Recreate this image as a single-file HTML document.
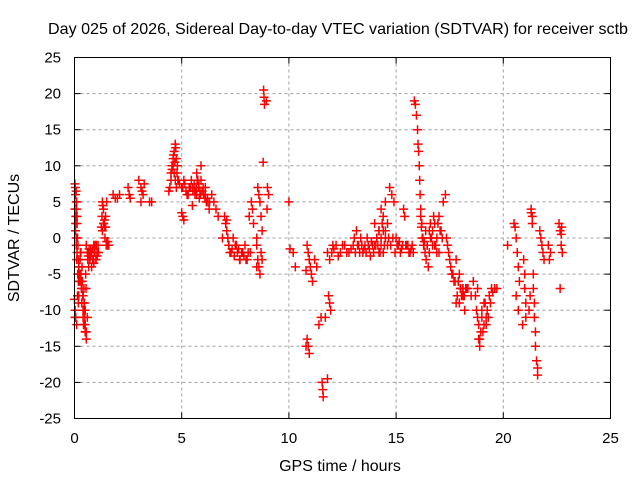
<!DOCTYPE html>
<html><head><meta charset="utf-8"><style>
body{margin:0;background:#fff}
svg{display:block;font-family:"Liberation Sans",sans-serif}
</style></head><body>
<svg id="chart" width="640" height="480" viewBox="0 0 640 480" xmlns="http://www.w3.org/2000/svg">
<rect width="640" height="480" fill="#fff"/>
<text x="338" y="34" font-size="16" text-anchor="middle" textLength="580" lengthAdjust="spacingAndGlyphs">Day 025 of 2026, Sidereal Day-to-day VTEC variation (SDTVAR) for receiver sctb</text>
<text x="340" y="471" font-size="16" text-anchor="middle">GPS time / hours</text>
<text transform="translate(19,238) rotate(-90)" font-size="16" text-anchor="middle">SDTVAR / TECUs</text>
<g id="grid"></g>
<g id="ticks"></g>
<g id="marks"></g>
<rect x="74.5" y="57.5" width="536" height="361" fill="none" stroke="#000" stroke-width="1"/>
</svg>
<script>
const xTicks=[0,5,10,15,20,25];
const yTicks=[25,20,15,10,5,0,-5,-10,-15,-20,-25];
const hours=[0.02,0.05,0.08,0.1,0.12,0.05,0.08,0.1,0.15,0.18,0.2,0.03,0.06,0.1,0.14,0.18,0.02,0.05,0.08,0.12,0.2,0.25,0.3,0.35,0.4,0.45,0.5,0.3,0.35,0.4,0.45,0.5,0.55,0.35,0.4,0.45,0.5,0.55,0.6,0.55,0.65,0.7,0.75,0.8,0.85,0.9,0.95,1.0,1.05,1.1,0.7,0.8,0.9,1.0,
1.3,1.35,1.4,1.45,1.3,1.35,1.4,1.5,1.55,1.6,1.45,1.5,1.55,1.8,1.9,2.0,2.1,2.5,2.55,2.6,3.0,3.1,3.15,3.2,3.25,3.1,3.5,3.6,4.4,4.45,4.5,4.55,4.6,4.65,4.7,4.75,4.8,4.85,4.65,4.7,4.75,5.0,5.05,5.1,5.0,5.05,5.1,5.15,5.2,5.3,5.4,5.5,5.6,5.7,5.75,5.8,5.85,5.9,6.0,6.1,6.2,6.3,5.5,5.7,5.9,6.1,6.4,6.5,6.6,6.7,
6.9,7.0,7.05,7.1,7.15,7.2,7.3,7.4,7.5,7.6,7.7,7.8,7.9,8.0,8.05,8.2,8.25,8.3,8.35,8.1,8.15,8.5,8.55,8.6,8.65,8.7,8.75,8.5,8.55,8.6,8.65,8.7,8.75,8.5,8.8,8.82,8.84,8.86,8.95,9.0,9.05,8.98,
10.0,10.05,10.2,10.3,10.8,10.85,10.9,10.95,10.8,10.85,10.9,10.95,11.0,11.05,11.1,11.2,11.3,11.4,11.5,11.55,11.58,11.6,11.8,11.85,11.9,11.95,11.7,11.8,11.9,12.0,12.05,
12.3,12.5,12.7,12.9,13.0,13.1,13.2,13.3,13.4,13.5,13.6,13.7,13.8,13.9,13.95,14.0,14.05,14.1,14.15,14.2,14.25,14.3,14.35,14.4,14.45,14.5,14.2,14.3,14.4,14.5,14.6,14.7,14.8,14.9,15.0,15.1,15.2,15.3,15.35,15.4,15.5,15.6,15.45,
15.8,15.85,15.9,15.95,16.0,16.02,16.05,16.08,16.1,16.12,16.15,16.2,16.25,16.3,16.35,16.4,16.5,16.6,16.7,16.8,16.9,17.0,17.1,16.6,16.8,17.0,17.2,17.3,17.35,17.4,17.45,17.5,17.55,17.6,17.7,17.8,17.9,18.0,18.1,18.2,17.8,17.95,18.1,18.15,18.3,18.5,18.6,18.7,18.8,18.85,18.9,18.95,19.0,19.1,19.15,19.2,19.25,19.3,19.4,19.5,19.6,19.7,
20.2,20.5,20.55,20.6,20.65,20.7,20.75,20.6,20.7,20.9,20.95,21.0,21.0,21.05,21.05,21.2,21.25,21.3,21.35,21.3,21.35,21.4,21.4,21.45,21.45,21.5,21.5,21.55,21.6,21.6,21.7,21.75,21.8,21.85,21.9,22.1,22.15,22.2,22.6,22.65,22.7,22.75,22.65,22.7,22.72,
0.0,0.02,0.04,0.06,0.08,0.1,0.12,0.14,0.16,0.18,0.2,0.22,0.24,0.26,0.28,0.3,0.32,0.34,0.36,0.38,0.4,0.42,0.44,0.46,0.48,0.5,0.52,0.54,0.6,0.62,0.64,0.66,0.68,0.72,0.76,0.84,0.88,0.92,0.96,1.02,1.06,1.12,
1.25,1.28,1.32,1.36,1.42,1.48,4.5,4.55,4.6,4.62,4.68,4.72,4.78,4.82,4.9,5.25,5.35,5.45,5.52,5.58,5.62,5.65,5.68,5.72,5.78,5.82,5.88,5.95,6.02,6.08,6.15,6.22,6.28,
7.1,7.2,7.25,7.35,7.45,7.55,7.65,7.72,7.85,7.95,
12.1,12.2,12.4,12.6,12.8,13.05,13.15,13.25,13.35,13.45,13.55,13.65,13.75,13.85,14.0,14.1,14.2,14.3,14.4,14.5,14.6,14.65,14.75,14.85,14.95,15.05,15.15,15.25,15.55,15.65,15.7,15.75,
16.15,16.18,16.22,16.28,16.32,16.38,16.45,16.55,16.65,16.75,16.85,16.95,17.05,17.15,16.45,16.55,16.7,16.9,
17.65,17.75,17.85,17.9,17.95,18.0,18.05,18.12,18.18,18.25,18.35,18.75,18.8,18.85,18.9,19.0,19.05,19.1,19.2,19.35,19.45];
const sdtvar=[7.5,6,5,4,3,1,-1,-3,-5,-6,-8,-10,-11,-12,-8,-9,4,2,0,-2,-4,-5,-6,-7,-8,-9,-10,-2,-4,-11,-12,-13,-14,-6,-8,-10,-12,-13,-11,-1,-2,-3,-1.5,-2,-3,-1,-2,-3,-2,-1,-2,-4,-3.5,-3,
5,4,2.5,1.5,1,2,1.5,-0.5,-1,-1,3,5,-0.5,6,5.5,5.5,6,7,6,5.5,8,7,6.5,6,7.5,5,5,5,6.5,7,9,10,11,12,13,11,10,8,9,8,7,7,3,2.5,3.5,7,8,7.5,6.5,6,7,7,6.5,6,8,7.5,6.5,10,7,6,5.5,5,4.5,9,8,7,6,5,4,3,0,
3,2,1,0,-1,-2,0,-1,-2,-3,-2,-2.5,-3,-3,-2,5,4,2,-2,3,0,7,6,5,3,1,-1,-3,-4,-5,-2,-3,-4,10.5,20.5,19.5,18.5,19,7,6,4,5,
-1.5,-2,-4,-4.5,-14,-15,-16,-15,-1,-2,-3,-4,-5,-6,-3,-4,-12,-11,-20,-21,-22,-19.5,-8,-9,-10,-11,-2,-3,-2,-1,-2.5,
-1,-2,-1.5,-1,-2,-1,-2,-1,-1.5,-2,-1,-2.5,-1,-2,-1,-1,0,-1,1,-2,0,2,1,-1,0,-2,4,3,5,2,7,6,5,0,-1,-2,-1,4,3,-1,-2,-1,-2,
19,18.5,17,15,13,12,10,8,6,4,2,0,-1,-2,-3,-4,0,1,-1,0,-2,1,2,2,3,5,6,0,-1,-2,-3,-4,-5,-6,-3,-6,-7,-8,-10,-9,-5,-7,-8,-7,-8,-6,-8,-7,-14,-15,-13,-10,-12,-9,-12,-10,-11,-9,-7.5,-7,-7,
-1,2,1.5,0,-2,-4,-6,-8,-10,-12,-3,-5,-7,-9,-11,-10,-8,4,3,3.5,2,-5,-7,-9,-11,-13,-15,-17,-19,-18,1,0,-1,-2,-3,-1,-3,-2,2,1,-1,-2,-7,0.5,1.5,
-8.5,-11,7,3,6.5,5,2,0,-1,-3,-4,-5,-6,-3,-2,-5,-7,-9,-6,-8,-10,-12,-7,-9,-11,-13,-5,-7,-2,-3,-2.5,-4,-1.5,-3,-2.5,-1.5,-3,-2,-1,-1,-2.5,-2,
1.5,3,4.5,2,0,-1,8,9.5,10,11.5,10.5,12.5,9,8,7.5,6,7,8,6.5,7.5,6,6.5,7,8,7,5.5,6,6.5,6,5.5,5,5,4,
2.5,-1,-2,-1.5,-2.5,-1,-1.5,-3,-2,-1,
-1.5,-1,-2,-1,-2,0,1,-1,0,-2,-1,0,-1.5,-0.5,2,0,1,-1,-2,1,-1,0,-1,0,-2,-1,-0.5,-1.5,-1,-2,-1.5,-1,
3,1.5,0,-1,-0.5,1,-1,1,0,3,-1,2,1,0,-1,-2,-1,-2,
-5,-6,-8,-6,-9,-7,-8,-7,-8,-7,-7,-10,-11,-12,-14,-11,-13,-9,-11,-8,-7];
const X0=74.5,X1=610.5,Y0=418.5,Y1=57.5;
function xs(t){return X0+(t-0)/(25-0)*(X1-X0);}
function ys(v){return Y0-(v+25)/(50)*(Y0-Y1);}
const NS='http://www.w3.org/2000/svg';
const grid=document.getElementById('grid'),ticks=document.getElementById('ticks'),marks=document.getElementById('marks');
function mk(tag,at,parent){const e=document.createElementNS(NS,tag);for(const k in at)e.setAttribute(k,at[k]);parent.appendChild(e);return e;}
xTicks.forEach(t=>{
  const x=xs(t);
  if(t>0&&t<25){const g=mk('line',{x1:x,x2:x,y1:Y1,y2:Y0,stroke:'#a0a0a0','stroke-dasharray':'3,3'},grid);
  
  }
  mk('line',{x1:x,x2:x,y1:Y0,y2:Y0-6,stroke:'#000'},ticks);
  mk('line',{x1:x,x2:x,y1:Y1,y2:Y1+6,stroke:'#000'},ticks);
  const l=mk('text',{x:x,y:443,'font-size':15,'text-anchor':'middle'},ticks);l.textContent=t;
  
  
});
yTicks.forEach(v=>{
  const y=ys(v);
  if(v>-25&&v<25){const g=mk('line',{x1:X0,x2:X1,y1:y,y2:y,stroke:'#a0a0a0','stroke-dasharray':'3,3'},grid);
  
  }
  mk('line',{x1:X0,x2:X0+6,y1:y,y2:y,stroke:'#000'},ticks);
  mk('line',{x1:X1,x2:X1-6,y1:y,y2:y,stroke:'#000'},ticks);
  const l=mk('text',{x:61,y:y+5,'font-size':15,'text-anchor':'end'},ticks);l.textContent=v;
  
  
});
const n=Math.min(hours.length,sdtvar.length);
for(let i=0;i<n;i++){
  const x=xs(hours[i]),y=ys(sdtvar[i]);
  const p=mk('path',{d:`M${x-4.5},${y}h9M${x},${y-4.5}v9`,stroke:'#f00','stroke-width':1.5,fill:'none'},marks);
  
  
}
</script>
</body></html>
